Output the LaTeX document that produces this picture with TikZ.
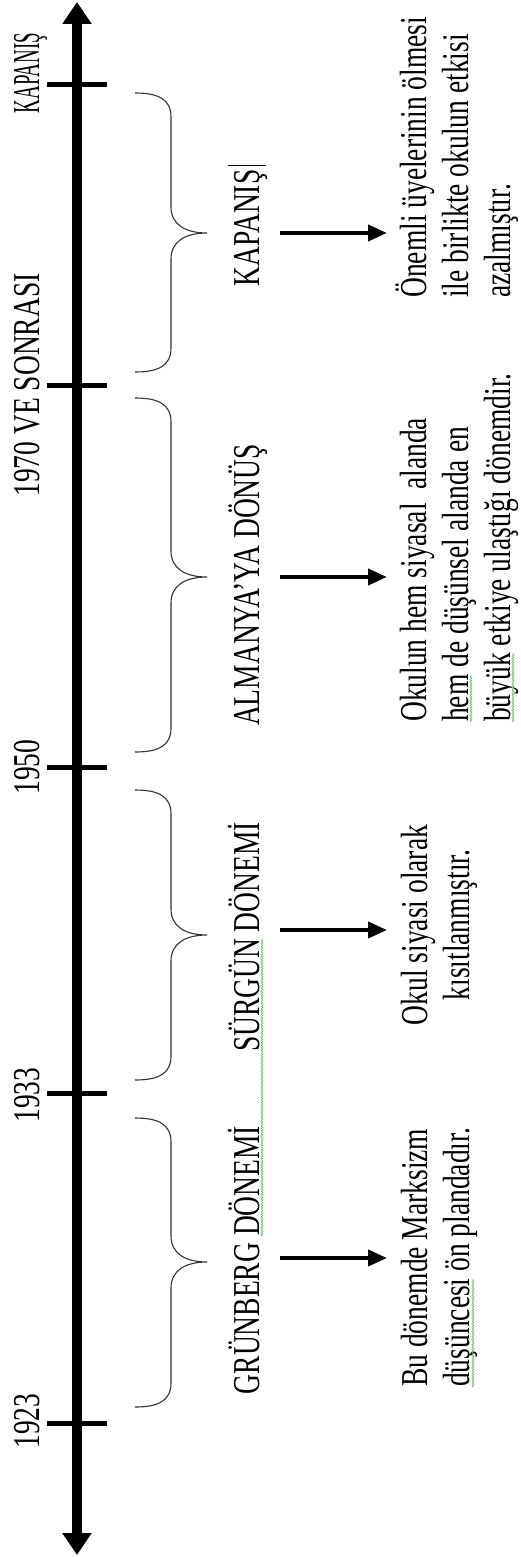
\documentclass[tikz,border=0pt]{standalone}
\usepackage{fontspec}
\setmainfont{Liberation Serif}
\usepackage{graphicx}
\usetikzlibrary{arrows.meta,decorations.pathmorphing}
\newcommand{\vs}[2][1]{\scalebox{#1}[1.38]{#2}}
\newcommand{\tlbrace}[3]{%
  \draw[bracel] (135,#1) .. controls (158,#1) and (171,{#1+6}) .. (171,{#1+24})
    -- (171,{#2-26}) .. controls (171,{#2-8}) and (186,#2) .. (207,#2)
    .. controls (186,#2) and (171,{#2+8}) .. (171,{#2+26})
    -- (171,{#3-24}) .. controls (171,{#3-6}) and (158,#3) .. (135,#3);}
\begin{document}
\begin{tikzpicture}[x=1pt,y=-1pt,
  txt/.style={rotate=90, inner sep=0pt, font=\fontsize{27.5}{30.5}\selectfont},
  tickline/.style={line width=5pt},
  axisline/.style={line width=10pt, {Triangle[width=28pt,length=22pt]}-{Triangle[width=28pt,length=22pt]}},
  bracel/.style={line width=1.1pt, black!80},
  conn/.style={line width=4pt, -{Triangle[width=16pt,length=19pt]}},
  wavy/.style={draw=green!60!black!60, line width=0.7pt, decorate, decoration={snake, amplitude=0.9pt, segment length=2.6pt}}
]
\useasboundingbox (0,0) rectangle (521,1557);
% axis
\coordinate (axtop) at (77,2);
\coordinate (axbot) at (77,1555);
\draw[axisline] (axbot) -- (axtop);
\foreach \ty in {85,385,767,1093,1423} {\draw[tickline] (47,\ty) -- (107,\ty);}
% year labels
\node[txt, anchor=base] (ykap) at (39,73) {\vs[0.69]{KAPANIŞ}};
\node[txt, anchor=base] (y1970) at (39,385) {\vs{1970 VE SONRASI}};
\node[txt, anchor=base] (y1950) at (39,767) {\vs{1950}};
\node[txt, anchor=base] (y1933) at (39,1095) {\vs{1933}};
\node[txt, anchor=base] (y1923) at (39,1421) {\vs{1923}};
% braces
\tlbrace{93}{233}{372}
\tlbrace{398}{577}{752}
\tlbrace{790}{935}{1080}
\tlbrace{1118}{1262}{1407}
% period labels
\node[txt, anchor=base] (pkap) at (259,228) {\vs{KAPANIŞ}};
\node[txt, anchor=base] (palm) at (259,585) {\vs{ALMANYA’YA DÖNÜŞ}};
\node[txt, anchor=base] (psur) at (259,937) {\vs{SÜRGÜN DÖNEMİ}};
\node[txt, anchor=base] (pgru) at (259,1260) {\vs{GRÜNBERG DÖNEMİ}};
\draw[line width=1pt] (228,166) -- (266,166);
% arrows
\coordinate (k1) at (280,233); \coordinate (k2) at (387,233);
\coordinate (a1) at (280,577); \coordinate (a2) at (387,577);
\coordinate (s1) at (280,930); \coordinate (s2) at (387,930);
\coordinate (g1) at (280,1258); \coordinate (g2) at (387,1258);
\draw[conn] (k1) -- (k2);
\draw[conn] (a1) -- (a2);
\draw[conn] (s1) -- (s2);
\draw[conn] (g1) -- (g2);
% descriptions
\node[txt, anchor=base west] (dkap) at (426,298) {\vs{\begin{tabular}[t]{@{}l@{}}Önemli üyelerinin ölmesi\\ile birlikte okulun etkisi\\azalmıştır.\end{tabular}}};
\node[txt, anchor=base west] (dalm) at (426,722) {\vs{\begin{tabular}[t]{@{}l@{}}Okulun hem siyasal~ alanda\\hem de düşünsel alanda en\\büyük etkiye ulaştığı dönemdir.\end{tabular}}};
\node[txt, anchor=base] (dsur) at (427,925) {\vs{\begin{tabular}[t]{@{}c@{}}Okul siyasi olarak\\kısıtlanmıştır.\end{tabular}}};
\node[txt, anchor=base west] (dgru) at (427,1387) {\vs{\begin{tabular}[t]{@{}l@{}}Bu dönemde Marksizm\\düşüncesi ön plandadır.\end{tabular}}};
% spell-check underlines
\draw[wavy] (262,1236) -- (262,939);
\draw[wavy] (471,722) -- (471,675);
\draw[wavy] (513,722) -- (513,653);
\draw[wavy] (473,1387) -- (473,1279);
\end{tikzpicture}
\end{document}
